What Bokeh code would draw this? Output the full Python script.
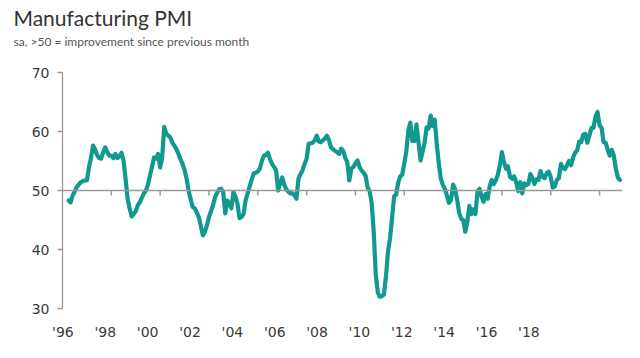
from bokeh.plotting import figure
from bokeh.models import Range1d, LinearAxis, FixedTicker, Span, Title
from bokeh.embed import file_html
from bokeh.resources import INLINE

# Germany manufacturing PMI, monthly, April 1996 - November 2018
start_year = 1996
start_month = 4
pmi_1996 = [48.3, 48.0, 49.2, 49.8, 50.6, 51.0, 51.4, 51.6, 51.7]
pmi_1997 = [51.7, 53.9, 55.5, 57.6, 57.0, 56.0, 55.5, 55.4, 56.5, 57.3, 56.5, 55.9]
pmi_1998 = [55.9, 55.5, 56.2, 55.5, 55.8, 56.4, 55.1, 52.0, 48.6, 47.0, 45.6, 46.0]
pmi_1999 = [46.5, 47.5, 48.0, 48.8, 49.5, 50.0, 51.0, 52.5, 54.0, 55.6, 55.4, 56.2]
pmi_2000 = [53.9, 55.6, 60.8, 59.6, 59.3, 59.0, 58.1, 57.6, 57.0, 56.2, 55.3, 54.5]
pmi_2001 = [53.5, 52.0, 50.0, 48.5, 47.2, 47.0, 46.3, 45.5, 44.0, 42.4, 43.0, 44.1]
pmi_2002 = [45.5, 46.5, 47.5, 48.9, 49.6, 50.2, 50.3, 49.7, 46.1, 48.3, 47.8, 47.0]
pmi_2003 = [49.7, 49.0, 47.8, 45.3, 45.5, 46.0, 48.3, 49.5, 50.7, 51.8, 52.9, 53.0]
pmi_2004 = [53.2, 53.7, 55.0, 55.9, 56.0, 56.4, 55.3, 54.5, 54.0, 53.4, 50.0, 51.2]
pmi_2005 = [52.2, 51.0, 50.2, 49.8, 49.5, 49.5, 49.2, 48.6, 52.0, 52.8, 53.4, 54.5]
pmi_2006 = [55.4, 57.9, 58.0, 58.1, 58.5, 59.3, 58.3, 58.2, 58.5, 58.8, 59.3, 58.5]
pmi_2007 = [57.3, 57.0, 56.7, 56.5, 56.2, 57.1, 56.7, 55.5, 54.8, 51.7, 53.7, 54.0]
pmi_2008 = [54.6, 55.1, 54.0, 53.4, 53.0, 52.5, 50.5, 49.9, 47.8, 42.9, 35.7, 32.7]
pmi_2009 = [32.0, 32.1, 32.4, 35.4, 39.6, 41.9, 45.3, 49.0, 49.3, 51.3, 52.4, 52.7]
pmi_2010 = [54.6, 56.6, 60.2, 61.5, 58.4, 58.4, 61.2, 58.2, 55.1, 56.6, 58.1, 60.7]
pmi_2011 = [60.5, 62.7, 60.9, 62.0, 57.7, 54.6, 52.0, 50.9, 50.3, 49.1, 47.9, 48.4]
pmi_2012 = [51.0, 50.2, 48.4, 46.2, 45.2, 45.0, 43.0, 44.7, 47.4, 46.0, 46.8, 46.0]
pmi_2013 = [49.8, 50.3, 49.0, 48.1, 49.4, 48.6, 50.7, 51.8, 51.1, 51.7, 52.7, 54.3]
pmi_2014 = [56.5, 54.8, 53.7, 54.1, 52.3, 52.0, 52.4, 51.4, 49.9, 51.4, 49.5, 51.2]
pmi_2015 = [50.9, 51.1, 52.8, 52.1, 51.1, 51.9, 51.8, 53.3, 52.3, 52.1, 52.9, 53.2]
pmi_2016 = [52.3, 50.5, 50.7, 51.8, 52.1, 54.5, 53.8, 53.6, 54.3, 55.0, 54.3, 55.6]
pmi_2017 = [56.4, 56.8, 58.3, 58.2, 59.5, 59.6, 58.1, 59.3, 60.6, 60.6, 62.5, 63.3]
pmi_2018 = [61.1, 60.6, 58.2, 58.1, 56.9, 55.9, 56.9, 55.9, 53.7, 52.2, 51.8]

year_labels = ["'96", "'98", "'00", "'02", "'04", "'06", "'08", "'10", "'12", "'14", "'16", "'18"]
y_ticks = [30, 40, 50, 60, 70]
tick_years = list(range(1998, 2019, 2))
title_text = "Manufacturing PMI"
subtitle_text = "sa, >50 = improvement since previous month"

pmi = (pmi_1996 + pmi_1997 + pmi_1998 + pmi_1999 + pmi_2000 + pmi_2001 + pmi_2002
       + pmi_2003 + pmi_2004 + pmi_2005 + pmi_2006 + pmi_2007 + pmi_2008 + pmi_2009
       + pmi_2010 + pmi_2011 + pmi_2012 + pmi_2013 + pmi_2014 + pmi_2015 + pmi_2016
       + pmi_2017 + pmi_2018)
xs = [start_year + (start_month - 1 + i) / 12 for i in range(len(pmi))]

TEAL = "#12998f"
GREY = "#999999"
TXT = "#3a3a3a"

p = figure(width=624, height=342, x_range=Range1d(1996, 2018.94), y_range=Range1d(30, 70),
           output_backend="svg", toolbar_location=None,
           x_axis_location=None, y_axis_location=None,
           min_border_left=62, min_border_right=2, min_border_top=72, min_border_bottom=33)
p.outline_line_color = None
p.xgrid.visible = False
p.ygrid.visible = False
p.background_fill_color = "white"

# left value axis
yax = LinearAxis(ticker=FixedTicker(ticks=y_ticks))
yax.axis_line_color = GREY
yax.axis_line_width = 1.3
yax.major_tick_line_color = GREY
yax.major_tick_line_width = 1.3
yax.major_tick_in = 0
yax.major_tick_out = 5
yax.minor_tick_line_color = None
yax.major_label_standoff = 8
yax.major_label_text_font = "DejaVu Sans"
yax.major_label_text_font_size = "14px"
yax.major_label_text_color = TXT
p.add_layout(yax, "left")

# bottom category labels (evenly spaced as in the original)
p.extra_x_ranges = {"lab": Range1d(-0.01, 13.21)}
xax = LinearAxis(x_range_name="lab", ticker=FixedTicker(ticks=list(range(len(year_labels)))),
                 major_label_overrides={i: s for i, s in enumerate(year_labels)})
xax.axis_line_color = None
xax.major_tick_line_color = None
xax.major_tick_in = 0
xax.major_tick_out = 0
xax.minor_tick_line_color = None
xax.minor_tick_in = 0
xax.minor_tick_out = 0
xax.major_label_standoff = 15
xax.major_label_text_font = "DejaVu Sans"
xax.major_label_text_font_size = "14px"
xax.major_label_text_color = TXT
p.add_layout(xax, "below")

# 50 line with year ticks
p.add_layout(Span(location=50, dimension="width", line_color=GREY, line_width=1.5))
p.segment(x0=tick_years, y0=[50] * len(tick_years), x1=tick_years, y1=[49.15] * len(tick_years),
          line_color=GREY, line_width=1.5)

p.line(xs, pmi, line_color=TEAL, line_width=4.2, line_join="round", line_cap="round")

# spacer between subtitle and plot, then subtitle, then title (outermost)
spacer = Title(text=" ", text_font="Lato", text_font_size="12px", standoff=6)
p.add_layout(spacer, "above")
sub = Title(text=subtitle_text, text_font="Lato", text_font_size="12px",
            text_font_style="normal", text_color="#555555", align="left", offset=-49,
            standoff=2)
p.add_layout(sub, "above")
ttl = Title(text=title_text, text_font="Lato", text_font_size="21px",
            text_font_style="normal", text_color="#333333", align="left", offset=-49,
            standoff=2)
p.add_layout(ttl, "above")

open("out.html", "w").write(file_html(p, INLINE))
